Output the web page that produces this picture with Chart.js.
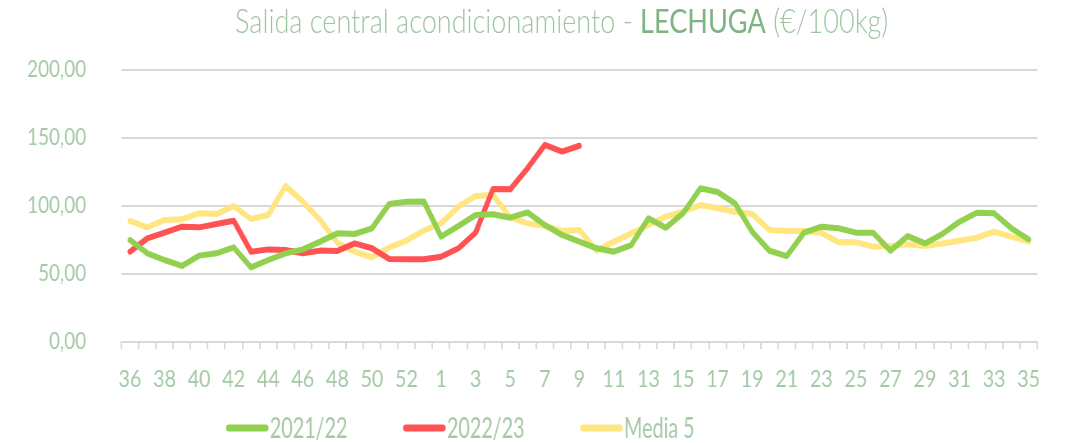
<!DOCTYPE html>
<html>
<head>
<meta charset="utf-8">
<script src="https://cdn.jsdelivr.net/npm/chart.js@4.4.0/dist/chart.umd.min.js"></script>
<style>
  html, body { margin: 0; padding: 0; background: #fff; overflow: hidden; }
  #wrap { position: absolute; left: 0; top: 0; width: 1300px; height: 443px;
          transform: scaleX(0.82); transform-origin: 0 0; }
  #titulo { position: absolute; top: 0px; left: 185px; width: 1000px; text-align: center;
            font-family: Lato, sans-serif; font-weight: 300; font-size: 33px; color: #9fc5a1; white-space: nowrap; }
  #titulo b { font-weight: 400; color: #7fb383; }
  #grafico { position: absolute; left: 0; top: 0; width: 1300px; height: 443px; }
</style>
</head>
<body>
<div id="wrap">
  <div id="titulo">Salida central acondicionamiento - <b>LECHUGA</b> (€/100kg)</div>
  <canvas id="grafico" width="1300" height="443"></canvas>
</div>
<script>
let semanas = ["36","37","38","39","40","41","42","43","44","45","46","47","48","49","50","51","52","53",
  "1","2","3","4","5","6","7","8","9","10","11","12","13","14","15","16","17","18","19","20",
  "21","22","23","24","25","26","27","28","29","30","31","32","33","34","35"]
let campana_2122 = [75, 65.2, 60.3, 55.9, 63.5, 65.2, 69.6, 54.9, 60.3, 65.2, 68.1, 73.8, 79.9, 79.4, 83.6, 101.5, 103.2, 103.4,
  77.5, 85.3, 93.4, 93.9, 91.4, 95.3, 86, 78.7, 73.8, 68.9, 66.4, 71.3, 91, 84, 94.6,
  113, 110.3, 102, 81.1, 67.1, 63.2, 80.4, 84.8, 83.6, 80.4, 80.4, 67.1, 77.9, 72.5, 79.4, 88.5, 95.1, 94.6, 83.6, 75.5]
let campana_2223 = [66.4, 76.2, 80.4, 84.8, 84.3, 86.8, 89.2, 66.4, 68.1, 67.6, 65.2, 67.2, 67, 72.5, 68.9, 61, 60.9, 60.8,
  62.7, 68.9, 80.4, 112.5, 112.3, 127.7, 144.9, 140, 144.3]
let media_5 = [89, 84.3, 89.7, 90.2, 94.6, 94.1, 100, 90.4, 93.4, 114.7, 103.2, 89.7, 73, 66.4, 62.3, 69.6, 74.6, 82,
  87.3, 99.5, 107.4, 108.1, 91.7, 87.3, 85.3, 81.6, 82.4, 67.2, 73.8, 79.9, 86, 92.2, 95.8,
  100.7, 98.3, 95.8, 94.1, 82.4, 81.6, 81.6, 80.4, 73.3, 73.3, 70.1, 70.5, 71.8, 70.5, 72.5, 74.5, 76.7, 81.1, 77.5, 73.8]
let nombres = ["2021/22", "2022/23", "Media 5"]
let colores = ['#92d050', '#ff5353', '#ffe680']

let color_texto = '#a3c9a5'
let color_rejilla = '#d9d9d9'

Chart.defaults.font.family = 'Lato, sans-serif'

function serie(i, datos) {
  return {
    label: nombres[i],
    data: datos,
    borderColor: colores[i],
    backgroundColor: colores[i],
    borderWidth: 6,
    pointRadius: 0,
    tension: 0,
    borderCapStyle: 'round',
    borderJoinStyle: 'round',
  }
}

// leyenda estilo Excel: linea corta + texto pegado
var leyenda = {
  id: 'leyenda',
  afterDraw: function(chart) {
    var c = chart.ctx
    c.save()
    c.font = '28px Lato, sans-serif'
    c.textBaseline = 'middle'
    c.textAlign = 'left'
    chart.data.datasets.forEach(function(ds, i) {
      var x = 276 + i * 216
      var y = 428
      c.strokeStyle = ds.borderColor
      c.lineWidth = 7
      c.lineCap = 'round'
      c.beginPath()
      c.moveTo(x + 3, y)
      c.lineTo(x + 48, y)
      c.stroke()
      c.save()
      c.translate(x + 53, y + 1)
      c.scale(0.86, 1)
      c.fillStyle = color_texto
      c.fillText(ds.label, 0, 0)
      c.restore()
    })
    c.restore()
  }
}

var ctx = document.getElementById('grafico').getContext('2d')

var chart = new Chart(ctx, {
    type: 'line',
    data: {
      labels: semanas,
      datasets: [serie(0, campana_2122), serie(1, campana_2223), serie(2, media_5)]
    },
    options: {
      responsive: false,
      animation: false,
      layout: { padding: { top: 70, right: 35, left: 0, bottom: 51 } },
      scales: {
        x: {
          offset: true,
          grid: { offset: true, drawOnChartArea: false, drawTicks: true, tickLength: 7, color: color_rejilla, lineWidth: 2 },
          border: { display: true, color: color_rejilla, width: 2 },
          ticks: {
            autoSkip: false, maxRotation: 0, padding: 16,
            color: color_texto, font: { size: 24 },
            callback: function(v, i) { return i % 2 == 0 ? this.getLabelForValue(v) : '' }
          },
          afterFit: function(s) { s.height = 50 }
        },
        y: {
          min: 0, max: 200,
          ticks: {
            stepSize: 50, padding: 43, color: color_texto, font: { size: 23 },
            callback: function(v) { return v.toFixed(2).replace('.', ',') }
          },
          grid: { color: color_rejilla, lineWidth: 2, drawTicks: false },
          border: { display: false },
          afterFit: function(s) { s.width = 148 }
        }
      },
      plugins: {
        legend: { display: false },
        tooltip: { enabled: false }
      }
    },
    plugins: [leyenda]
    });
</script>
</body>
</html>
